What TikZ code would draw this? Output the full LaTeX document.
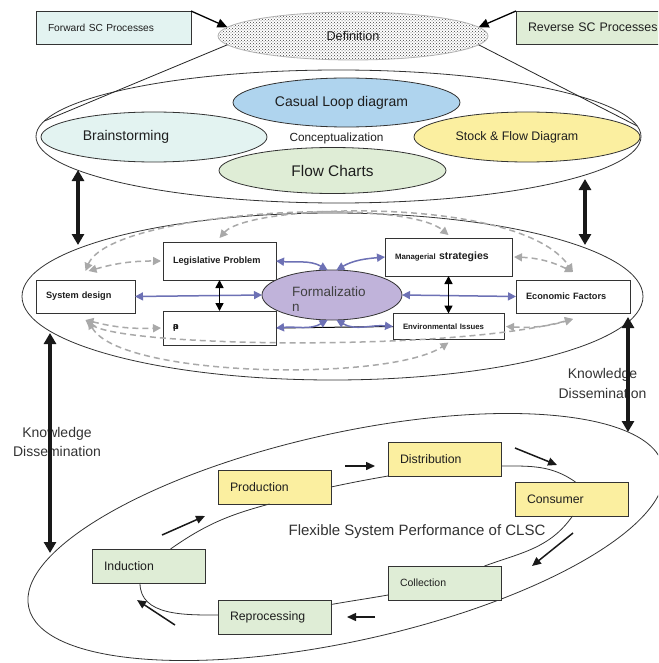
\documentclass[tikz,border=0pt]{standalone}
\usepackage{fontspec}
\setmainfont{Liberation Sans}
\usetikzlibrary{shapes.geometric,arrows.meta,patterns}
\definecolor{cyanfill}{HTML}{E3F3F1}
\definecolor{greenfill}{HTML}{DFEDD6}
\definecolor{bluefill}{HTML}{AFD4EE}
\definecolor{yellowfill}{HTML}{FBEFA0}
\definecolor{lavfill}{HTML}{C0B3DA}
\definecolor{linkblue}{HTML}{6D71B5}
\definecolor{dashgray}{HTML}{A9A9A9}
\definecolor{txt}{HTML}{1E1E1E}
\definecolor{edge}{HTML}{333333}
\newcommand{\fsz}[1]{\fontsize{#1}{#1}\selectfont}
\begin{document}
\begin{tikzpicture}[x=1pt,y=1pt,
  every node/.style={text=txt, inner sep=0pt, outer sep=0pt},
  topbox/.style={draw=edge, line width=0.9pt, minimum height=33pt, align=left},
  oval/.style={ellipse, draw=edge, line width=0.8pt},
  inbox/.style={draw=edge, line width=0.8pt, fill=white, align=left, font=\bfseries\fsz{9.2}},
  procbox/.style={draw=edge, line width=0.8pt, minimum width=113pt, minimum height=34pt, text width=89pt, align=left, font=\fsz{12.3}},
  bluelink/.style={linkblue, line width=1.5pt, {Triangle[width=8pt,length=8pt]}-{Triangle[width=8pt,length=8pt]}},
  graylink/.style={dashgray, line width=1.5pt, dash pattern=on 6pt off 4pt, {Triangle[width=8pt,length=8pt]}-{Triangle[width=8pt,length=8pt]}},
  blacklink/.style={black, line width=1.6pt, {Triangle[width=8pt,length=8pt]}-{Triangle[width=8pt,length=8pt]}},
  kdarrow/.style={black!90, line width=3.6pt, {Triangle[width=12pt,length=11pt]}-{Triangle[width=12pt,length=11pt]}},
  cyclearrow/.style={black!90, line width=1.5pt, -{Triangle[width=8pt,length=9pt]}},
  cycleline/.style={edge, line width=0.8pt},
  thinline/.style={black!85, line width=0.8pt},
  kdtext/.style={align=center, text=black!80},
]
\useasboundingbox (0,0) rectangle (658,-663);
\clip (0,0) rectangle (658,-663);
\fill[white] (0,0) rectangle (658,-663);

% ---------- top ----------
\node[topbox, fill=cyanfill, minimum width=155pt, text width=131pt, font=\fsz{10.2}] (fwd) at (113.5,-27.5) {Forward SC Processes};
\node[topbox, fill=greenfill, minimum width=158pt, text width=134pt, font=\fsz{12.4}] (rev) at (595,-27.5) {Reverse SC Processes};
\node[ellipse, draw=black!30, line width=0.8pt, pattern=crosshatch dots, pattern color=black!75, minimum width=270pt, minimum height=48pt, font=\fsz{12.7}] (def) at (353,-36) {Definition};

\draw[black, line width=1.3pt, -{Triangle[width=9pt,length=10pt]}] (fwd.north east) -- (def.176);
\draw[black, line width=1.3pt, -{Triangle[width=9pt,length=10pt]}] (rev.north west) -- (def.4);

% ---------- conceptualization ----------
\node[oval, minimum width=605pt, minimum height=133pt] (concept) at (338.5,-136.5) {};
\draw[thinline] (def.184) -- (concept.177);
\draw[thinline] (def.-4) -- (concept.2);
\node[oval, fill=cyanfill, minimum width=226pt, minimum height=50pt, font=\fsz{14}] (brain) at (154,-137) {Brainstorming\hspace*{56pt}};
\node[oval, fill=yellowfill, minimum width=226pt, minimum height=50pt, font=\fsz{12.4}] (sfd) at (527,-137) {Stock \& Flow Diagram\hspace*{20pt}};
\node[oval, fill=bluefill, minimum width=227pt, minimum height=49pt, font=\fsz{14}] (cld) at (346.5,-102.5) {Casual Loop diagram\hspace*{10pt}};
\node[oval, fill=greenfill, minimum width=227pt, minimum height=46pt, font=\fsz{15.4}] (flow) at (332.5,-170.5) {Flow Charts};
\node[font=\fsz{11.8}] (conc) at (336.5,-138) {Conceptualization};

% ---------- formalization level ----------
\node[oval, minimum width=621pt, minimum height=167pt] (sys) at (332.5,-296.5) {};

\node[inbox, minimum width=99pt, minimum height=33pt, text width=79pt] (sd) at (85.5,-296.5) {System design};
\node[inbox, minimum width=113pt, minimum height=38pt, text width=93pt] (leg) at (219.5,-261) {Legislative Problem};
\node[inbox, minimum width=113pt, minimum height=34pt, text width=93pt] (blank) at (219.5,-328) {\rlap{p}a};
\node[inbox, minimum width=127pt, minimum height=38pt, text width=107pt, font=\bfseries] (man) at (448.5,-257) {{\fsz{7.8}Managerial} {\fsz{10.5}strategies}};
\node[inbox, minimum width=111pt, minimum height=26pt, text width=91pt, font=\bfseries\fsz{7.8}] (env) at (448.5,-326.5) {Environmental Issues};
\node[inbox, minimum width=114pt, minimum height=33pt, text width=94pt] (eco) at (573,-296.5) {Economic Factors};

\draw[black, line width=1pt] (blank.east) -- (env.west);
\node[ellipse, draw=edge, line width=0.8pt, fill=lavfill, minimum width=140pt, minimum height=50pt] (form) at (332,-295) {};
\node[anchor=north west, align=left, font=\fontsize{13.5}{15}\selectfont, text=black!75] (formtext) at (292,-287) {Formalizatio\\n};

% gray dashed links
\draw[graylink] ([yshift=9pt]sd.north) .. controls (110,-212) and (400,-195) .. ([yshift=3pt]man.north);
\draw[graylink] ([yshift=4pt]leg.north) .. controls (250,-203) and (520,-195) .. ([yshift=8pt]eco.north);
\draw[graylink] ([xshift=3pt,yshift=9pt]sd.north) to[bend left=8] ([xshift=-2pt]leg.west);
\draw[graylink] ([xshift=2pt]man.east) to[bend left=12] ([yshift=8pt]eco.north);
\draw[graylink] ([yshift=-7pt]sd.south) to[bend right=8] ([xshift=-2pt]blank.west);
\draw[graylink] ([yshift=-7pt]sd.south) .. controls (120,-347) and (450,-352) .. ([yshift=-6pt]eco.south);
\draw[graylink] ([xshift=3pt,yshift=-8pt]sd.south) .. controls (120,-378) and (390,-382) .. ([yshift=-3pt]env.south);
\draw[graylink] ([xshift=2pt]env.east) to[bend right=10] ([yshift=-6pt]eco.south);

% blue links
\draw[bluelink] (sd.east) -- (form.west);
\draw[bluelink] (leg.east) to[out=-5,in=150] (form.100);
\draw[bluelink] (form.80) to[out=30,in=185] (man.west);
\draw[bluelink] (blank.east) to[out=5,in=-150] (form.260);
\draw[bluelink] (form.280) to[out=-30,in=175] (env.west);
\draw[bluelink] (form.east) -- (eco.west);

% black links
\draw[blacklink] (leg.south) -- (blank.north);
\draw[blacklink] (man.south) -- (env.north);

% ---------- CLSC cycle ----------
\node[ellipse, draw=edge, line width=0.8pt, minimum width=650pt, minimum height=208pt, rotate=12.5] (cyc) at (346,-537) {};
\node[font=\fsz{15}, text=black!80] (flex) at (417,-532) {Flexible System Performance of CLSC};

\node[procbox, fill=yellowfill] (prod) at (274.5,-487) {Production};
\node[procbox, fill=yellowfill] (dist) at (444.5,-459) {Distribution};
\node[procbox, fill=yellowfill] (cons) at (571.5,-499) {Consumer};
\node[procbox, fill=greenfill, font=\fsz{10.5}] (coll) at (444.5,-583) {Collection};
\node[procbox, fill=greenfill] (repr) at (274.5,-617) {Reprocessing};
\node[procbox, fill=greenfill] (ind) at (148.5,-566) {Induction};

\draw[cycleline] ([xshift=22pt]ind.north) to[out=35,in=195] ([xshift=-5pt]prod.south);
\draw[cycleline] (prod.east) to[out=12,in=190] (dist.south west);
\draw[cycleline] ([yshift=-7pt]dist.east) to[out=0,in=145] ([xshift=4pt]cons.north);
\draw[cycleline] ([xshift=1pt]cons.south) to[out=-125,in=20] ([xshift=40pt]coll.north);
\draw[cycleline] ([yshift=-12pt]coll.west) to[out=190,in=10] ([yshift=12.5pt]repr.east);
\draw[cycleline] ([yshift=2pt]repr.west) to[out=180,in=-90] ([xshift=-8.5pt]ind.south);

\coordinate (c1s) at (162,-535); \coordinate (c1e) at (205,-516);
\coordinate (c2s) at (345,-466); \coordinate (c2e) at (375,-466);
\coordinate (c3s) at (515,-448); \coordinate (c3e) at (557,-465);
\coordinate (c4s) at (573,-533); \coordinate (c4e) at (532,-566);
\coordinate (c5s) at (375,-617); \coordinate (c5e) at (347,-617);
\coordinate (c6s) at (175,-625); \coordinate (c6e) at (137,-600);
\draw[cyclearrow] (c1s) -- (c1e);
\draw[cyclearrow] (c2s) -- (c2e);
\draw[cyclearrow] (c3s) -- (c3e);
\draw[cyclearrow] (c4s) -- (c4e);
\draw[cyclearrow] (c5s) -- (c5e);
\draw[cyclearrow] (c6s) -- (c6e);

% ---------- knowledge dissemination ----------
\node[kdtext, font=\fontsize{14}{19}\selectfont] (kdl) at (57,-441.5) {Knowledge\\Dissemination};
\node[kdtext, font=\fontsize{14}{20}\selectfont] (kdr) at (602.5,-383) {Knowledge\\Dissemination};

\coordinate (k1a) at (78,-170);  \coordinate (k1b) at (78,-245);
\coordinate (k2a) at (585,-179); \coordinate (k2b) at (585,-245);
\coordinate (k3a) at (50,-333);  \coordinate (k3b) at (50,-553);
\coordinate (k4a) at (628,-317); \coordinate (k4b) at (628,-432);
\draw[kdarrow] (k1a) -- (k1b);
\draw[kdarrow] (k2a) -- (k2b);
\draw[kdarrow] (k3a) -- (k3b);
\draw[kdarrow] (k4a) -- (k4b);
\end{tikzpicture}
\end{document}
